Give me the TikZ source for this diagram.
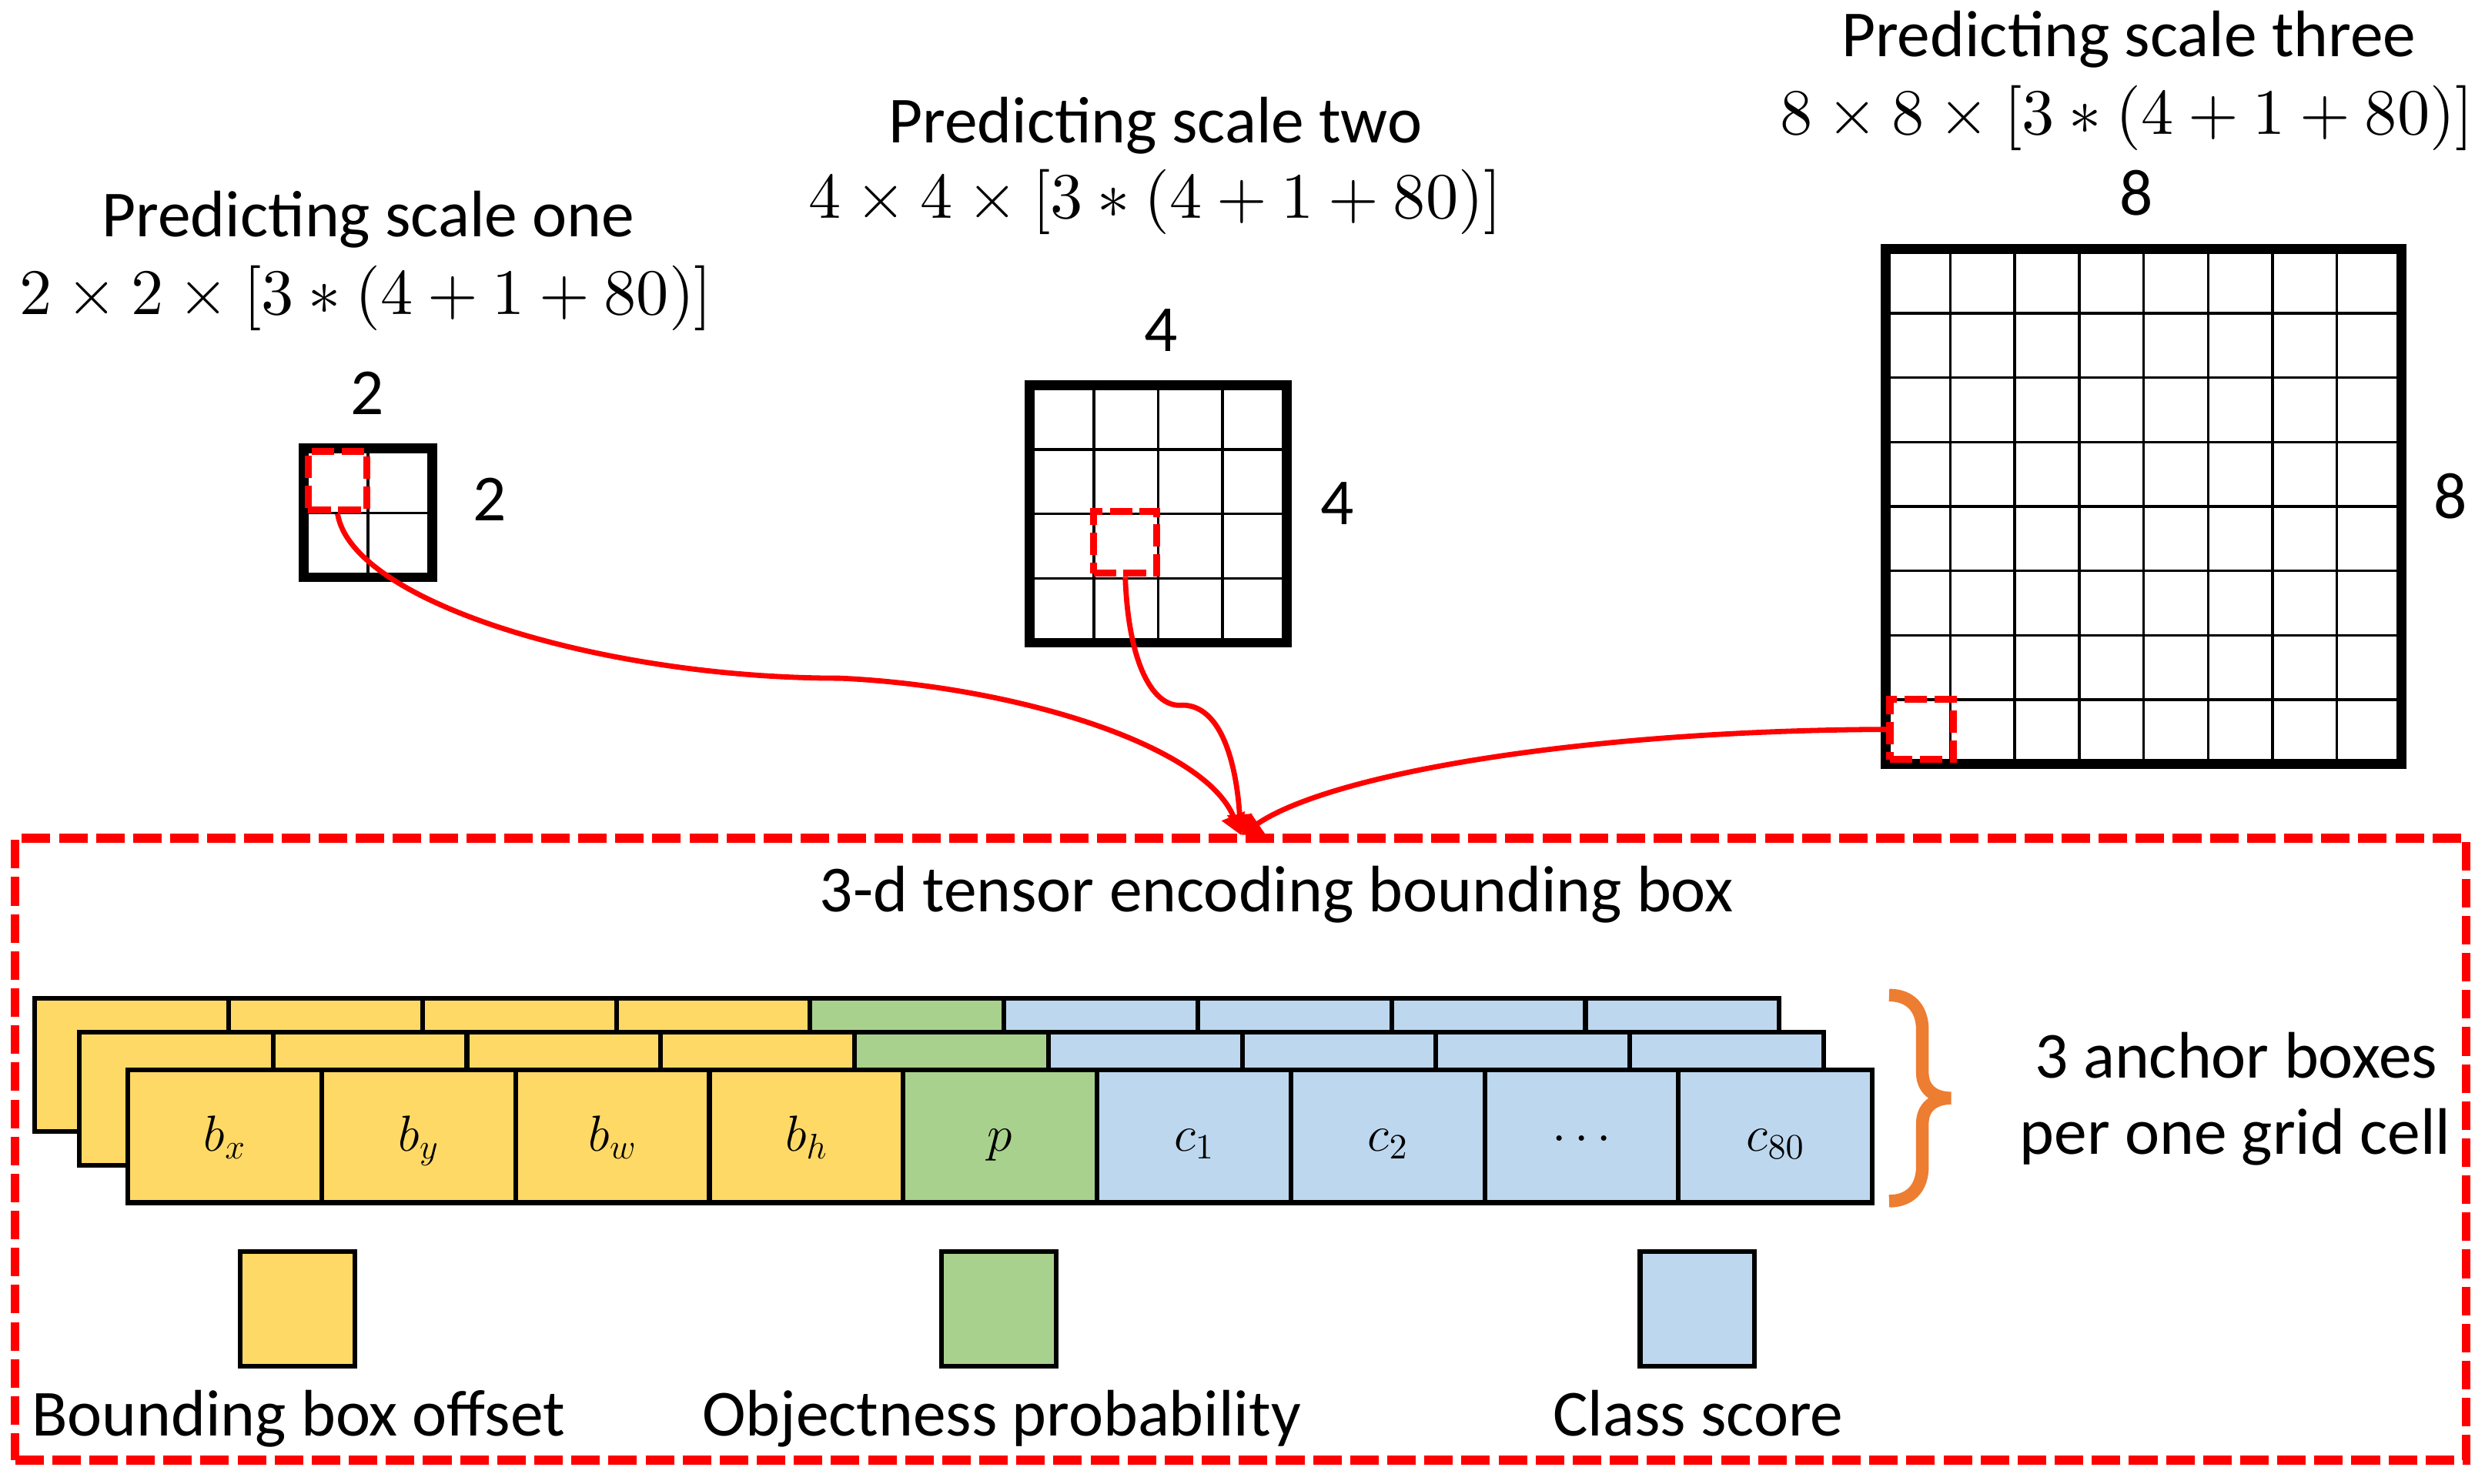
\documentclass[tikz,border=0pt]{standalone}
\usepackage{fix-cm}
\usepackage[no-math]{fontspec}
\setmainfont{Carlito}
\DeclareFontShape{OT1}{cmr}{m}{n}{<->cmr10}{}
\usetikzlibrary{arrows.meta}
\definecolor{cyel}{HTML}{FFD966}
\definecolor{cgrn}{HTML}{A9D18E}
\definecolor{cblu}{HTML}{BDD7EE}
\definecolor{corg}{HTML}{ED7D31}
\definecolor{cred}{HTML}{FF0000}
\begin{document}
\begin{tikzpicture}[x=1pt,y=-1pt,
  txt/.style={font=\fontsize{41.5}{48}\selectfont, inner sep=0pt, anchor=base},
  mtxt/.style={font=\fontsize{41}{48}\selectfont, inner sep=0pt, anchor=base, text height=28pt},
  thingrid/.style={line width=1.7pt},
  gridbox/.style={draw, line width=6.2pt, minimum width=#1, minimum height=#1, inner sep=0pt, outer sep=0pt},
  redcell/.style={draw=cred, line width=4.4pt, dash pattern=on 14.3pt off 4.6pt, inner sep=0pt},
  bigframe/.style={draw=cred, line width=5.5pt, dash pattern=on 18pt off 5.4pt, inner sep=0pt},
  cellbox/.style={draw, line width=3pt, minimum width=122.3pt, minimum height=84pt, inner sep=0pt, anchor=north west, font=\fontsize{32}{38}\selectfont, text height=23pt, text depth=4pt},
  conn/.style={draw=cred, line width=3.3pt, -{Triangle[length=13pt,width=15pt]}},
  legbox/.style={draw, line width=3pt, minimum width=72.3pt, minimum height=72pt, inner sep=0pt},
  bracepath/.style={draw=corg, line width=8pt}
]
\useasboundingbox (0,0) rectangle (1568,936.5);

% ---------- titles ----------
\node[txt] (t1) at (232.3,149.2) {Predicting scale one};
\node[mtxt] (m1) at (231,198.5) {$2\times2\times[3\ast(4+1+80)]$};
\node[txt] (t2) at (729,90) {Predicting scale two};
\node[mtxt] (m2) at (729,137.5) {$4\times4\times[3\ast(4+1+80)]$};
\node[txt] (t3) at (1343.2,35.8) {Predicting scale three};
\node[mtxt] (m3) at (1342,84.6) {$8\times8\times[3\ast(4+1+80)]$};

% ---------- grid one ----------
\foreach \i in {1} {
  \draw[thingrid] (191.5+\i*40.65,283) -- (191.5+\i*40.65,364.3);
  \draw[thingrid] (191.5,283+\i*40.65) -- (272.8,283+\i*40.65);
}
\node[gridbox=81.3pt] (g1) at (232.15,323.65) {};
\node[redcell, minimum width=37pt, minimum height=37pt] (r1) at (213,303.5) {};
\node[txt] (l1a) at (232,261.7) {2};
\node[txt] (l1b) at (309,328.6) {2};

% ---------- grid two ----------
\foreach \i in {1,2,3} {
  \draw[thingrid] (649.5+\i*40.65,243) -- (649.5+\i*40.65,405.6);
  \draw[thingrid] (649.5,243+\i*40.65) -- (812.1,243+\i*40.65);
}
\node[gridbox=162.6pt] (g2) at (730.8,324.3) {};
\node[redcell, minimum width=40pt, minimum height=39pt] (r2) at (710,342.3) {};
\node[txt] (l2a) at (732.5,221.8) {4};
\node[txt] (l2b) at (843.6,331) {4};

% ---------- grid three ----------
\foreach \i in {1,...,7} {
  \draw[thingrid] (1190+\i*40.65,157) -- (1190+\i*40.65,482.2);
  \draw[thingrid] (1190,157+\i*40.65) -- (1515.2,157+\i*40.65);
}
\node[gridbox=325.2pt] (g3) at (1352.6,319.6) {};
\node[redcell, minimum width=40pt, minimum height=38pt] (r3) at (1212.5,460.3) {};
\node[txt] (l3a) at (1347.8,136) {8};
\node[txt] (l3b) at (1546.2,327) {8};

% ---------- frame ----------
\node[bigframe, minimum width=1546.5pt, minimum height=392.5pt] (frame) at (782.75,725.25) {};
\node[txt] (ttl) at (805.5,575.6) {3-d tensor encoding bounding box};

% ---------- tensor rows ----------
\foreach \row/\ox/\oy in {1/20.5/628.5, 2/48.5/650} {
  \foreach \k/\col in {0/cyel,1/cyel,2/cyel,3/cyel,4/cgrn,5/cblu,6/cblu,7/cblu,8/cblu}
    \node[cellbox, fill=\col] (c\row-\k) at (\ox+\k*122.3,\oy) {};
}
\foreach \k/\col/\lab in {0/cyel/$b_x$,1/cyel/$b_y$,2/cyel/$b_w$,3/cyel/$b_h$,4/cgrn/$p$,5/cblu/$c_1$,6/cblu/$c_2$,7/cblu/$\cdots$,8/cblu/$c_{80}$}
  \node[cellbox, fill=\col] (f\k) at (79.2+\k*122.3,673.5) {\lab};

% ---------- brace ----------
\draw[bracepath] (1192,628) .. controls (1205,628) and (1213,636) .. (1213,650)
  -- (1213,677) .. controls (1213,687) and (1220,693) .. (1231,693)
  .. controls (1220,693) and (1213,699) .. (1213,709)
  -- (1213,736) .. controls (1213,750) and (1205,758) .. (1192,758);
\node[txt] (anc1) at (1411,680.5) {3 anchor boxes};
\node[txt] (anc2) at (1410.4,728.6) {per one grid cell};

% ---------- legend ----------
\node[legbox, fill=cyel] (ly) at (187.85,826) {};
\node[legbox, fill=cgrn] (lg) at (630.25,826) {};
\node[legbox, fill=cblu] (lb) at (1071,826) {};
\node[txt] (lty) at (188.3,906) {Bounding box offset};
\node[txt] (ltg) at (632,906) {Objectness probability};
\node[txt] (ltb) at (1071.5,906) {Class score};

% ---------- connectors ----------
\coordinate (tip) at (783,527);
\draw[conn] (r1.south) .. controls (222,380) and (380,428) .. (530,428)
  .. controls (640,433) and (760,470) .. (tip);
\draw[conn] (r2.south) .. controls (712,420) and (728,447) .. (746,445)
  .. controls (770,445) and (780,480) .. (tip);
\draw[conn] (r3.west) .. controls (1000,461) and (840,488) .. (tip);
\end{tikzpicture}
\end{document}
